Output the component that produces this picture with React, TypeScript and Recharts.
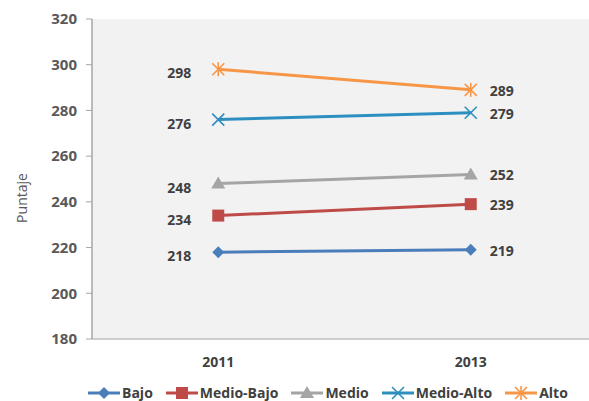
import React from 'react';
import { LineChart, Line, XAxis, YAxis, CartesianGrid, Legend } from 'recharts';

const years = ['2011', '2013'];
const bajo = [218, 219];
const medioBajo = [234, 239];
const medio = [248, 252];
const medioAlto = [276, 279];
const alto = [298, 289];
const yTicks = [180, 200, 220, 240, 260, 280, 300, 320];

const series = [
  { key: 'bajo', name: 'Bajo', values: bajo, color: '#4a7ebb', marker: 'diamond' },
  { key: 'medioBajo', name: 'Medio-Bajo', values: medioBajo, color: '#be4b48', marker: 'square' },
  { key: 'medio', name: 'Medio', values: medio, color: '#a5a5a5', marker: 'triangle' },
  { key: 'medioAlto', name: 'Medio-Alto', values: medioAlto, color: '#2c8fbf', marker: 'x' },
  { key: 'alto', name: 'Alto', values: alto, color: '#f79646', marker: 'star' },
];

const data = years.map((year, i) => {
  const row: Record<string, string | number> = { year };
  series.forEach((s) => {
    row[s.key] = s.values[i];
  });
  return row;
});

const FONT = '"Open Sans", "DejaVu Sans", sans-serif';

function Marker({ type, cx, cy, color }: { type: string; cx: number; cy: number; color: string }) {
  if (type === 'diamond') {
    return <polygon points={`${cx},${cy - 6} ${cx + 6},${cy} ${cx},${cy + 6} ${cx - 6},${cy}`} fill={color} />;
  }
  if (type === 'square') {
    return <rect x={cx - 6} y={cy - 6} width={12} height={12} fill={color} />;
  }
  if (type === 'triangle') {
    return <polygon points={`${cx},${cy - 7} ${cx + 7},${cy + 5} ${cx - 7},${cy + 5}`} fill={color} />;
  }
  if (type === 'x') {
    return (
      <g stroke={color} strokeWidth={1.6}>
        <line x1={cx - 6} y1={cy - 6} x2={cx + 6} y2={cy + 6} />
        <line x1={cx - 6} y1={cy + 6} x2={cx + 6} y2={cy - 6} />
      </g>
    );
  }
  return (
    <g stroke={color} strokeWidth={1.6}>
      <line x1={cx - 6} y1={cy - 6} x2={cx + 6} y2={cy + 6} />
      <line x1={cx - 6} y1={cy + 6} x2={cx + 6} y2={cy - 6} />
      <line x1={cx} y1={cy - 7} x2={cx} y2={cy + 7} />
    </g>
  );
}

const makeDot = (type: string, color: string) => (props: any) => {
  const { cx, cy, index } = props;
  if (cx == null || cy == null) return <g key={index} />;
  return <Marker key={index} type={type} cx={cx} cy={cy} color={color} />;
};

const ValueLabel = (props: any) => {
  const { x, y, value, index } = props;
  const left = index === 0;
  return (
    <text
      x={left ? x - 27 : x + 19}
      y={y + 5}
      dy={left ? 4 : 1}
      textAnchor={left ? 'end' : 'start'}
      fill="#404040"
      fontSize={14}
      fontWeight="bold"
      fontFamily={FONT}
    >
      {value}
    </text>
  );
};

const YLabel = () => (
  <text
    x={0}
    y={0}
    transform="translate(27, 198) rotate(-90)"
    textAnchor="middle"
    fill="#595959"
    fontSize={14}
    fontFamily={FONT}
  >
    Puntaje
  </text>
);

const LegendContent = () => (
  <div
    style={{
      display: 'flex',
      alignItems: 'center',
      gap: 13,
      paddingLeft: 88,
      paddingTop: 14,
      fontFamily: FONT,
      fontSize: 14,
      fontWeight: 'bold',
      color: '#404040',
    }}
  >
    {series.map((s) => (
      <div key={s.key} style={{ display: 'flex', alignItems: 'center', gap: 2 }}>
        <svg width={32} height={14}>
          <line x1={0} y1={7} x2={32} y2={7} stroke={s.color} strokeWidth={3} />
          <Marker type={s.marker} cx={16} cy={7} color={s.color} />
        </svg>
        <span>{s.name}</span>
      </div>
    ))}
  </div>
);

export default function App() {
  return (
    <div style={{ position: 'absolute', left: 0, top: 0, width: 589, height: 401, overflow: 'hidden', background: '#fff' }}>
      <LineChart width={600} height={401} data={data} margin={{ top: 19, right: 3, bottom: 0, left: 0 }}>
        <CartesianGrid fill="#f2f2f2" horizontal={false} vertical={false} />
        <XAxis
          dataKey="year"
          scale="band"
          height={30}
          tickLine={false}
          axisLine={{ stroke: '#bfbfbf', strokeWidth: 1.5 }}
          tickMargin={12}
          tick={{ fill: '#404040', fontSize: 14, fontWeight: 'bold', fontFamily: FONT }}
        />
        <YAxis
          width={92}
          domain={[180, 320]}
          ticks={yTicks}
          interval={0}
          tickSize={6}
          tickMargin={9}
          tickLine={{ stroke: '#a6a6a6' }}
          axisLine={{ stroke: '#a6a6a6', strokeWidth: 1.5 }}
          tick={{ fill: '#595959', fontSize: 15, fontWeight: 'bold', fontFamily: FONT }}
          label={<YLabel />}
        />
        <Legend verticalAlign="bottom" height={32} content={<LegendContent />} />
        {series.map((s) => (
          <Line
            key={s.key}
            dataKey={s.key}
            name={s.name}
            stroke={s.color}
            strokeWidth={3}
            dot={makeDot(s.marker, s.color)}
            activeDot={false}
            label={<ValueLabel />}
            isAnimationActive={false}
          />
        ))}
      </LineChart>
    </div>
  );
}
